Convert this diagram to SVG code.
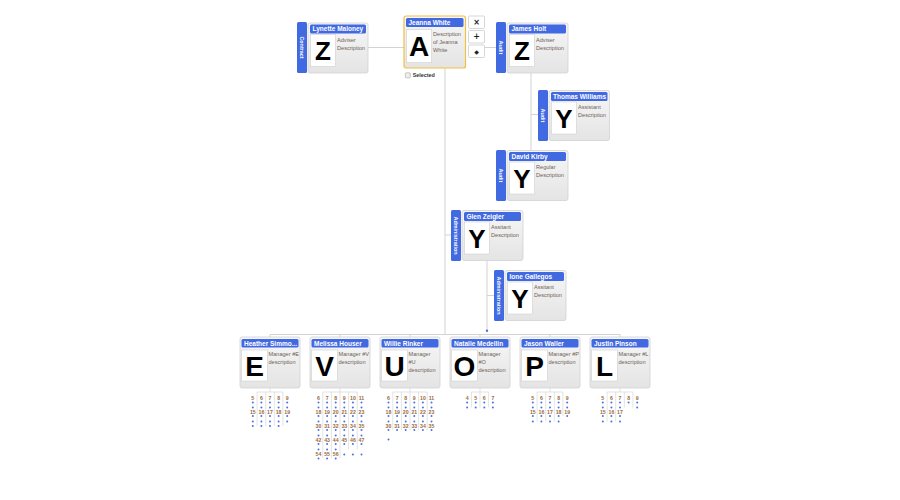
<svg xmlns="http://www.w3.org/2000/svg" width="900" height="500" viewBox="0 0 900 500">
<defs>
<linearGradient id="cg" x1="0" y1="0" x2="0" y2="1"><stop offset="0" stop-color="#f6f6f6"/><stop offset="1" stop-color="#e4e4e4"/></linearGradient>
<style>
.card{fill:url(#cg);stroke:#d2d2d2;stroke-width:0.8}
.sel{fill:url(#cg);stroke:#f2c040;stroke-width:1.2}
.side{fill:#4169e1}
.title{fill:#4169e1}
.nm{font-family:"Liberation Sans",Arial,sans-serif;font-weight:bold;font-size:6.5px;fill:#fff}
.ph{fill:#fff;stroke:#cfcfcf;stroke-width:0.6}
.lt{font-family:"Liberation Sans",Arial,sans-serif;font-weight:bold;font-size:26px;fill:#000;text-anchor:middle}
.lb{font-size:28px}
.ds{font-family:"Liberation Sans",Arial,sans-serif;font-size:5.6px;fill:#6e6258}
.st{font-family:"Liberation Sans",Arial,sans-serif;font-weight:bold;font-size:5.4px;fill:#fff;text-anchor:middle;dominant-baseline:central}
.ln{stroke:#d3d3d3;stroke-width:1;fill:none}
.ml{stroke:#d0d0d0;stroke-width:0.6;fill:none}
.tl{font-family:"Liberation Sans",Arial,sans-serif;font-size:5.2px;font-weight:bold;fill:#9a6a40;text-anchor:middle}
.d{fill:#4a72e0}
.btn{fill:#fff;stroke:#cccccc;stroke-width:0.8}
.bi{font-family:"DejaVu Sans",sans-serif;font-weight:bold;fill:#222;text-anchor:middle;dominant-baseline:central}
.sl{font-family:"Liberation Sans",Arial,sans-serif;font-weight:bold;font-size:5.4px;fill:#333}
</style>
</defs>
<rect width="900" height="500" fill="#fff"/>

<g id="connectors">
<path class="ln" d="M368 47.5H404M485 47.5H496M531 73V150M531 114.5H538M445 68V334.5M445 235H451M487 261V330.5M487 295.5H494M270 334.5H620M270 334.5V337M340 334.5V337M410 334.5V337M480 334.5V337M550 334.5V337M620 334.5V337"/>
<circle class="d" cx="487" cy="330.7" r="1.2"/>
</g>

<g id="lynette-maloney">
<rect class="side" x="297" y="22" width="10" height="51" rx="1.5"/>
<text class="st" transform="translate(302 47.5) rotate(90)">Contract</text>
<g transform="translate(308 23)">
<rect class="card" width="60" height="50" rx="2"/>
<rect class="title" x="2" y="1.5" width="56" height="9" rx="1.5"/>
<text class="nm" x="4.5" y="8.3">Lynette Maloney</text>
<rect class="ph" x="2.5" y="11.5" width="25" height="32"/>
<text class="lt" x="15" y="37">Z</text>
<text class="ds" x="29" y="18.5">Adviser</text>
<text class="ds" x="29" y="26.5">Description</text>
</g>
</g>

<g id="jeanna-white">
<g transform="translate(404 16)">
<rect class="sel" width="61.5" height="52" rx="2"/>
<rect class="title" x="2" y="2" width="57.5" height="9" rx="1.5"/>
<text class="nm" x="4.5" y="8.8">Jeanna White</text>
<rect class="ph" x="2.7" y="13.3" width="25" height="33.4"/>
<text class="lt lb" x="15.2" y="40">A</text>
<text class="ds" x="29" y="20.2">Description</text>
<text class="ds" x="29" y="28.2">of Jeanna</text>
<text class="ds" x="29" y="36">White</text>
</g>
<rect x="405.3" y="72.8" width="5" height="5" rx="0.8" fill="#eee" stroke="#999" stroke-width="0.5"/>
<text class="sl" x="412.7" y="76.6">Selected</text>
</g>

<g id="buttons">
<rect class="btn" x="468.5" y="16" width="16" height="12.5" rx="1"/>
<text class="bi" x="476.5" y="22.3" font-size="8">×</text>
<rect class="btn" x="468.5" y="30.5" width="16" height="12.5" rx="1"/>
<text class="bi" x="476.5" y="36.8" font-size="8">+</text>
<rect class="btn" x="468.5" y="45" width="16" height="12.5" rx="1"/>
<text class="bi" x="476.5" y="51.3" font-size="6">◆</text>
</g>

<g id="james-holt">
<rect class="side" x="496" y="22" width="10" height="51" rx="1.5"/>
<text class="st" transform="translate(501 47.5) rotate(90)">Audit</text>
<g transform="translate(507 23)">
<rect class="card" width="61" height="50" rx="2"/>
<rect class="title" x="2" y="1.5" width="57" height="9" rx="1.5"/>
<text class="nm" x="4.5" y="8.3">James Holt</text>
<rect class="ph" x="2.5" y="11.5" width="25" height="32"/>
<text class="lt" x="15" y="37">Z</text>
<text class="ds" x="29" y="18.5">Adviser</text>
<text class="ds" x="29" y="26.5">Description</text>
</g>
</g>

<g id="thomas-williams">
<rect class="side" x="538" y="90" width="10" height="51" rx="1.5"/>
<text class="st" transform="translate(543 115.5) rotate(90)">Audit</text>
<g transform="translate(549 90.5)">
<rect class="card" width="60.5" height="50" rx="2"/>
<rect class="title" x="2" y="1.5" width="56.5" height="9" rx="1.5"/>
<text class="nm" x="4" y="8.3">Thomas Williams</text>
<rect class="ph" x="2.5" y="11.5" width="25" height="32"/>
<text class="lt" x="15" y="37">Y</text>
<text class="ds" x="29" y="18.5">Assistant</text>
<text class="ds" x="29" y="26.5">Description</text>
</g>
</g>

<g id="david-kirby">
<rect class="side" x="496" y="150" width="10" height="51" rx="1.5"/>
<text class="st" transform="translate(501 175.5) rotate(90)">Audit</text>
<g transform="translate(507 150.5)">
<rect class="card" width="61" height="50" rx="2"/>
<rect class="title" x="2" y="1.5" width="57" height="9" rx="1.5"/>
<text class="nm" x="4.5" y="8.3">David Kirby</text>
<rect class="ph" x="2.5" y="11.5" width="25" height="32"/>
<text class="lt" x="15" y="37">Y</text>
<text class="ds" x="29" y="18.5">Regular</text>
<text class="ds" x="29" y="26.5">Description</text>
</g>
</g>

<g id="glen-zeigler">
<rect class="side" x="451" y="210" width="10" height="51" rx="1.5"/>
<text class="st" transform="translate(456 235.5) rotate(90)">Administration</text>
<g transform="translate(462 210.5)">
<rect class="card" width="61" height="50" rx="2"/>
<rect class="title" x="2" y="1.5" width="57" height="9" rx="1.5"/>
<text class="nm" x="4.5" y="8.3">Glen Zeigler</text>
<rect class="ph" x="2.5" y="11.5" width="25" height="32"/>
<text class="lt" x="15" y="37">Y</text>
<text class="ds" x="29" y="18.5">Assitant</text>
<text class="ds" x="29" y="26.5">Description</text>
</g>
</g>

<g id="ione-gallegos">
<rect class="side" x="494" y="270" width="10" height="51" rx="1.5"/>
<text class="st" transform="translate(499 295.5) rotate(90)">Administration</text>
<g transform="translate(505 270.5)">
<rect class="card" width="61" height="50" rx="2"/>
<rect class="title" x="2" y="1.5" width="57" height="9" rx="1.5"/>
<text class="nm" x="4.5" y="8.3">Ione Gallegos</text>
<rect class="ph" x="2.5" y="11.5" width="25" height="32"/>
<text class="lt" x="15" y="37">Y</text>
<text class="ds" x="29" y="18.5">Assitant</text>
<text class="ds" x="29" y="26.5">Description</text>
</g>
</g>

<g id="heather-simmons" transform="translate(240 337)">
<rect class="card" width="60" height="51" rx="2"/>
<rect class="title" x="1.5" y="2" width="57" height="8.5" rx="1.5"/>
<text class="nm" x="4" y="8.6">Heather Simmo...</text>
<rect class="ph" x="1.5" y="13" width="26" height="31"/>
<text class="lt lb" x="14.5" y="38.5">E</text>
<text class="ds" x="28.5" y="19">Manager #E</text>
<text class="ds" x="28.5" y="27">description</text>
</g>

<g id="melissa-houser" transform="translate(310 337)">
<rect class="card" width="60" height="51" rx="2"/>
<rect class="title" x="1.5" y="2" width="57" height="8.5" rx="1.5"/>
<text class="nm" x="4" y="8.6">Melissa Houser</text>
<rect class="ph" x="1.5" y="13" width="26" height="31"/>
<text class="lt lb" x="14.5" y="38.5">V</text>
<text class="ds" x="28.5" y="19">Manager #V</text>
<text class="ds" x="28.5" y="27">description</text>
</g>

<g id="willie-rinker" transform="translate(380 337)">
<rect class="card" width="60" height="51" rx="2"/>
<rect class="title" x="1.5" y="2" width="57" height="8.5" rx="1.5"/>
<text class="nm" x="4" y="8.6">Willie Rinker</text>
<rect class="ph" x="1.5" y="13" width="26" height="31"/>
<text class="lt lb" x="14.5" y="38.5">U</text>
<text class="ds" x="28.5" y="19">Manager</text>
<text class="ds" x="28.5" y="27">#U</text>
<text class="ds" x="28.5" y="35">description</text>
</g>

<g id="natalie-medellin" transform="translate(450 337)">
<rect class="card" width="60" height="51" rx="2"/>
<rect class="title" x="1.5" y="2" width="57" height="8.5" rx="1.5"/>
<text class="nm" x="4" y="8.6">Natalie Medellin</text>
<rect class="ph" x="1.5" y="13" width="26" height="31"/>
<text class="lt lb" x="14.5" y="38.5">O</text>
<text class="ds" x="28.5" y="19">Manager</text>
<text class="ds" x="28.5" y="27">#O</text>
<text class="ds" x="28.5" y="35">description</text>
</g>

<g id="jason-waller" transform="translate(520 337)">
<rect class="card" width="60" height="51" rx="2"/>
<rect class="title" x="1.5" y="2" width="57" height="8.5" rx="1.5"/>
<text class="nm" x="4" y="8.6">Jason Waller</text>
<rect class="ph" x="1.5" y="13" width="26" height="31"/>
<text class="lt lb" x="14.5" y="38.5">P</text>
<text class="ds" x="28.5" y="19">Manager #P</text>
<text class="ds" x="28.5" y="27">description</text>
</g>

<g id="justin-pinson" transform="translate(590 337)">
<rect class="card" width="60" height="51" rx="2"/>
<rect class="title" x="1.5" y="2" width="57" height="8.5" rx="1.5"/>
<text class="nm" x="4" y="8.6">Justin Pinson</text>
<rect class="ph" x="1.5" y="13" width="26" height="31"/>
<text class="lt lb" x="14.5" y="38.5">L</text>
<text class="ds" x="28.5" y="19">Manager #L</text>
<text class="ds" x="28.5" y="27">description</text>
</g>

<g id="mini-heather">
<path class="ml" d="M270 388V392M257.1 392H282.9M257.1 392V426M265.7 392V426M274.3 392V426M282.9 392V426"/>
<text class="tl" x="252.8" y="400.3">5</text><text class="tl" x="261.4" y="400.3">6</text><text class="tl" x="270" y="400.3">7</text><text class="tl" x="278.6" y="400.3">8</text><text class="tl" x="287.2" y="400.3">9</text>
<text class="tl" x="252.8" y="413.8">15</text><text class="tl" x="261.4" y="413.8">16</text><text class="tl" x="270" y="413.8">17</text><text class="tl" x="278.6" y="413.8">18</text><text class="tl" x="287.2" y="413.8">19</text>
<g class="d">
<circle cx="252.8" cy="402.5" r="1"/><circle cx="261.4" cy="402.5" r="1"/><circle cx="270" cy="402.5" r="1"/><circle cx="278.6" cy="402.5" r="1"/><circle cx="287.2" cy="402.5" r="1"/>
<circle cx="252.8" cy="407.5" r="1"/><circle cx="261.4" cy="407.5" r="1"/><circle cx="270" cy="407.5" r="1"/><circle cx="278.6" cy="407.5" r="1"/><circle cx="287.2" cy="407.5" r="1"/>
<circle cx="252.8" cy="416" r="1"/><circle cx="261.4" cy="416" r="1"/><circle cx="270" cy="416" r="1"/><circle cx="278.6" cy="416" r="1"/><circle cx="287.2" cy="416" r="1"/>
<circle cx="252.8" cy="421.5" r="1"/><circle cx="261.4" cy="421.5" r="1"/><circle cx="270" cy="421.5" r="1"/><circle cx="278.6" cy="421.5" r="1"/><circle cx="287.2" cy="421.5" r="1"/>
<circle cx="252.8" cy="426" r="1"/><circle cx="261.4" cy="426" r="1"/><circle cx="270" cy="426" r="1"/><circle cx="278.6" cy="426" r="1"/>
</g>
</g>

<g id="mini-melissa">
<path class="ml" d="M340 388V392M322.8 392H357.2M322.8 392V458M331.4 392V458M340 392V458M348.6 392V449.5M357.2 392V449.5"/>
<text class="tl" x="318.5" y="400.3">6</text><text class="tl" x="327.1" y="400.3">7</text><text class="tl" x="335.7" y="400.3">8</text><text class="tl" x="344.3" y="400.3">9</text><text class="tl" x="352.9" y="400.3">10</text><text class="tl" x="361.5" y="400.3">11</text>
<text class="tl" x="318.5" y="413.8">18</text><text class="tl" x="327.1" y="413.8">19</text><text class="tl" x="335.7" y="413.8">20</text><text class="tl" x="344.3" y="413.8">21</text><text class="tl" x="352.9" y="413.8">22</text><text class="tl" x="361.5" y="413.8">23</text>
<text class="tl" x="318.5" y="427.8">30</text><text class="tl" x="327.1" y="427.8">31</text><text class="tl" x="335.7" y="427.8">32</text><text class="tl" x="344.3" y="427.8">33</text><text class="tl" x="352.9" y="427.8">34</text><text class="tl" x="361.5" y="427.8">35</text>
<text class="tl" x="318.5" y="441.8">42</text><text class="tl" x="327.1" y="441.8">43</text><text class="tl" x="335.7" y="441.8">44</text><text class="tl" x="344.3" y="441.8">45</text><text class="tl" x="352.9" y="441.8">46</text><text class="tl" x="361.5" y="441.8">47</text>
<text class="tl" x="318.5" y="455.8">54</text><text class="tl" x="327.1" y="455.8">55</text><text class="tl" x="335.7" y="455.8">56</text>
<g class="d">
<circle cx="318.5" cy="402.5" r="1"/><circle cx="327.1" cy="402.5" r="1"/><circle cx="335.7" cy="402.5" r="1"/><circle cx="344.3" cy="402.5" r="1"/><circle cx="352.9" cy="402.5" r="1"/><circle cx="361.5" cy="402.5" r="1"/>
<circle cx="318.5" cy="407.5" r="1"/><circle cx="327.1" cy="407.5" r="1"/><circle cx="335.7" cy="407.5" r="1"/><circle cx="344.3" cy="407.5" r="1"/><circle cx="352.9" cy="407.5" r="1"/><circle cx="361.5" cy="407.5" r="1"/>
<circle cx="318.5" cy="416" r="1"/><circle cx="327.1" cy="416" r="1"/><circle cx="335.7" cy="416" r="1"/><circle cx="344.3" cy="416" r="1"/><circle cx="352.9" cy="416" r="1"/><circle cx="361.5" cy="416" r="1"/>
<circle cx="318.5" cy="421.5" r="1"/><circle cx="327.1" cy="421.5" r="1"/><circle cx="335.7" cy="421.5" r="1"/><circle cx="344.3" cy="421.5" r="1"/><circle cx="352.9" cy="421.5" r="1"/><circle cx="361.5" cy="421.5" r="1"/>
<circle cx="318.5" cy="430" r="1"/><circle cx="327.1" cy="430" r="1"/><circle cx="335.7" cy="430" r="1"/><circle cx="344.3" cy="430" r="1"/><circle cx="352.9" cy="430" r="1"/><circle cx="361.5" cy="430" r="1"/>
<circle cx="318.5" cy="435.5" r="1"/><circle cx="327.1" cy="435.5" r="1"/><circle cx="335.7" cy="435.5" r="1"/><circle cx="344.3" cy="435.5" r="1"/><circle cx="352.9" cy="435.5" r="1"/><circle cx="361.5" cy="435.5" r="1"/>
<circle cx="318.5" cy="444" r="1"/><circle cx="327.1" cy="444" r="1"/><circle cx="335.7" cy="444" r="1"/><circle cx="344.3" cy="444" r="1"/><circle cx="352.9" cy="444" r="1"/><circle cx="361.5" cy="444" r="1"/>
<circle cx="318.5" cy="449.5" r="1"/><circle cx="327.1" cy="449.5" r="1"/><circle cx="335.7" cy="449.5" r="1"/><circle cx="344.3" cy="454.5" r="1"/><circle cx="352.9" cy="454.5" r="1"/><circle cx="361.5" cy="454.5" r="1"/>
<circle cx="318.5" cy="458.5" r="1"/><circle cx="327.1" cy="458.5" r="1"/><circle cx="335.7" cy="458.5" r="1"/>
</g>
</g>

<g id="mini-willie">
<path class="ml" d="M410 388V392M392.8 392H427.2M392.8 392V430M401.4 392V430M410 392V430M418.6 392V430M427.2 392V430"/>
<text class="tl" x="388.5" y="400.3">6</text><text class="tl" x="397.1" y="400.3">7</text><text class="tl" x="405.7" y="400.3">8</text><text class="tl" x="414.3" y="400.3">9</text><text class="tl" x="422.9" y="400.3">10</text><text class="tl" x="431.5" y="400.3">11</text>
<text class="tl" x="388.5" y="413.8">18</text><text class="tl" x="397.1" y="413.8">19</text><text class="tl" x="405.7" y="413.8">20</text><text class="tl" x="414.3" y="413.8">21</text><text class="tl" x="422.9" y="413.8">22</text><text class="tl" x="431.5" y="413.8">23</text>
<text class="tl" x="388.5" y="427.8">30</text><text class="tl" x="397.1" y="427.8">31</text><text class="tl" x="405.7" y="427.8">32</text><text class="tl" x="414.3" y="427.8">33</text><text class="tl" x="422.9" y="427.8">34</text><text class="tl" x="431.5" y="427.8">35</text>
<g class="d">
<circle cx="388.5" cy="402.5" r="1"/><circle cx="397.1" cy="402.5" r="1"/><circle cx="405.7" cy="402.5" r="1"/><circle cx="414.3" cy="402.5" r="1"/><circle cx="422.9" cy="402.5" r="1"/><circle cx="431.5" cy="402.5" r="1"/>
<circle cx="388.5" cy="407.5" r="1"/><circle cx="397.1" cy="407.5" r="1"/><circle cx="405.7" cy="407.5" r="1"/><circle cx="414.3" cy="407.5" r="1"/><circle cx="422.9" cy="407.5" r="1"/><circle cx="431.5" cy="407.5" r="1"/>
<circle cx="388.5" cy="416" r="1"/><circle cx="397.1" cy="416" r="1"/><circle cx="405.7" cy="416" r="1"/><circle cx="414.3" cy="416" r="1"/><circle cx="422.9" cy="416" r="1"/><circle cx="431.5" cy="416" r="1"/>
<circle cx="388.5" cy="421.5" r="1"/><circle cx="397.1" cy="421.5" r="1"/><circle cx="405.7" cy="421.5" r="1"/><circle cx="414.3" cy="421.5" r="1"/><circle cx="422.9" cy="421.5" r="1"/><circle cx="431.5" cy="421.5" r="1"/>
<circle cx="388.5" cy="430" r="1"/><circle cx="397.1" cy="430" r="1"/><circle cx="405.7" cy="430" r="1"/><circle cx="414.3" cy="430" r="1"/><circle cx="422.9" cy="430" r="1"/><circle cx="431.5" cy="430" r="1"/>
<circle cx="388.5" cy="439.5" r="1"/>
</g>
</g>

<g id="mini-natalie">
<path class="ml" d="M480 388V392M471.4 392H488.6M471.4 392V407.5M480 392V407.5M488.6 392V407.5"/>
<text class="tl" x="467.1" y="400.3">4</text><text class="tl" x="475.7" y="400.3">5</text><text class="tl" x="484.3" y="400.3">6</text><text class="tl" x="492.9" y="400.3">7</text>
<g class="d">
<circle cx="467.1" cy="402.5" r="1"/><circle cx="475.7" cy="402.5" r="1"/><circle cx="484.3" cy="402.5" r="1"/><circle cx="492.9" cy="402.5" r="1"/>
<circle cx="467.1" cy="407.5" r="1"/><circle cx="475.7" cy="407.5" r="1"/><circle cx="484.3" cy="407.5" r="1"/><circle cx="492.9" cy="407.5" r="1"/>
</g>
</g>

<g id="mini-jason">
<path class="ml" d="M550 388V392M537.1 392H562.9M537.1 392V421.5M545.7 392V421.5M554.3 392V421.5M562.9 392V416"/>
<text class="tl" x="532.8" y="400.3">5</text><text class="tl" x="541.4" y="400.3">6</text><text class="tl" x="550" y="400.3">7</text><text class="tl" x="558.6" y="400.3">8</text><text class="tl" x="567.2" y="400.3">9</text>
<text class="tl" x="532.8" y="413.8">15</text><text class="tl" x="541.4" y="413.8">16</text><text class="tl" x="550" y="413.8">17</text><text class="tl" x="558.6" y="413.8">18</text><text class="tl" x="567.2" y="413.8">19</text>
<g class="d">
<circle cx="532.8" cy="402.5" r="1"/><circle cx="541.4" cy="402.5" r="1"/><circle cx="550" cy="402.5" r="1"/><circle cx="558.6" cy="402.5" r="1"/><circle cx="567.2" cy="402.5" r="1"/>
<circle cx="532.8" cy="407.5" r="1"/><circle cx="541.4" cy="407.5" r="1"/><circle cx="550" cy="407.5" r="1"/><circle cx="558.6" cy="407.5" r="1"/><circle cx="567.2" cy="407.5" r="1"/>
<circle cx="532.8" cy="416" r="1"/><circle cx="541.4" cy="416" r="1"/><circle cx="550" cy="416" r="1"/><circle cx="558.6" cy="416" r="1"/><circle cx="567.2" cy="416" r="1"/>
<circle cx="532.8" cy="421.5" r="1"/><circle cx="541.4" cy="421.5" r="1"/><circle cx="550" cy="421.5" r="1"/><circle cx="558.6" cy="421.5" r="1"/>
</g>
</g>

<g id="mini-justin">
<path class="ml" d="M620 388V392M607.1 392H632.9M607.1 392V421.5M615.7 392V421.5M624.3 392V407.5M632.9 392V407.5"/>
<text class="tl" x="602.8" y="400.3">5</text><text class="tl" x="611.4" y="400.3">6</text><text class="tl" x="620" y="400.3">7</text><text class="tl" x="628.6" y="400.3">8</text><text class="tl" x="637.2" y="400.3">9</text>
<text class="tl" x="602.8" y="413.8">15</text><text class="tl" x="611.4" y="413.8">16</text><text class="tl" x="620" y="413.8">17</text>
<g class="d">
<circle cx="602.8" cy="402.5" r="1"/><circle cx="611.4" cy="402.5" r="1"/><circle cx="620" cy="402.5" r="1"/><circle cx="628.6" cy="402.5" r="1"/><circle cx="637.2" cy="402.5" r="1"/>
<circle cx="602.8" cy="407.5" r="1"/><circle cx="611.4" cy="407.5" r="1"/><circle cx="620" cy="407.5" r="1"/><circle cx="637.2" cy="407.5" r="1"/>
<circle cx="602.8" cy="416" r="1"/><circle cx="611.4" cy="416" r="1"/><circle cx="620" cy="416" r="1"/>
<circle cx="602.8" cy="421.5" r="1"/><circle cx="611.4" cy="421.5" r="1"/><circle cx="620" cy="421.5" r="1"/>
</g>
</g>
</svg>
